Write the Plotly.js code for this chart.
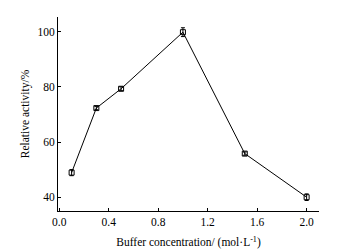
<!DOCTYPE html>
<html>
<head>
<meta charset="utf-8">
<script src="https://cdn.plot.ly/plotly-3.0.1.min.js"></script>
<style>html,body{margin:0;padding:0;background:#fff;}#chart{width:337px;height:252px;}</style>
</head>
<body>
<div id="chart"></div>
<script>
const concentration = [0.1, 0.3, 0.5, 1.0, 1.5, 2.0];
const activity = [48.9, 72.3, 79.3, 99.8, 55.8, 40.0];
const errors = [1.1, 0.6, 0.7, 1.6, 0.6, 1.2];
const xTicks = [0.0, 0.4, 0.8, 1.2, 1.6, 2.0];
const xTickText = ["0.0", "0.4", "0.8", "1.2", "1.6", "2.0"];
const yTicks = [40, 60, 80, 100];

const font = {family: "Liberation Serif, Times New Roman, serif", size: 11.5, color: "#000"};

Plotly.newPlot("chart", [{
  x: concentration,
  y: activity,
  type: "scatter",
  mode: "lines+markers",
  line: {color: "#000", width: 1},
  marker: {symbol: "square-open", size: 5, color: "#000", line: {width: 1, color: "#000"}},
  error_y: {type: "data", array: errors, visible: true, color: "#000", thickness: 1, width: 2}
}], {
  width: 337, height: 252,
  margin: {l: 58, r: 18, t: 17, b: 41, pad: 0},
  paper_bgcolor: "#fff", plot_bgcolor: "#fff",
  font: font,
  showlegend: false,
  xaxis: {
    range: [-0.01, 2.1],
    tickvals: xTicks, ticktext: xTickText,
    ticks: "inside", ticklen: 3, tickcolor: "#000", tickwidth: 1,
    showline: true, linecolor: "#000", linewidth: 1,
    showgrid: false, zeroline: false,
    tickfont: font,
    title: {text: "Buffer concentration/ (mol·L<sup>-1</sup>)", font: font, standoff: 11}
  },
  yaxis: {
    range: [35, 105.3],
    tickvals: yTicks,
    ticks: "inside", ticklen: 3, tickcolor: "#000", tickwidth: 1,
    showline: true, linecolor: "#000", linewidth: 1,
    showgrid: false, zeroline: false,
    tickfont: font,
    title: {text: "Relative activity/%", font: font, standoff: 5}
  }
}, {displayModeBar: false, staticPlot: true});
</script>
</body>
</html>
